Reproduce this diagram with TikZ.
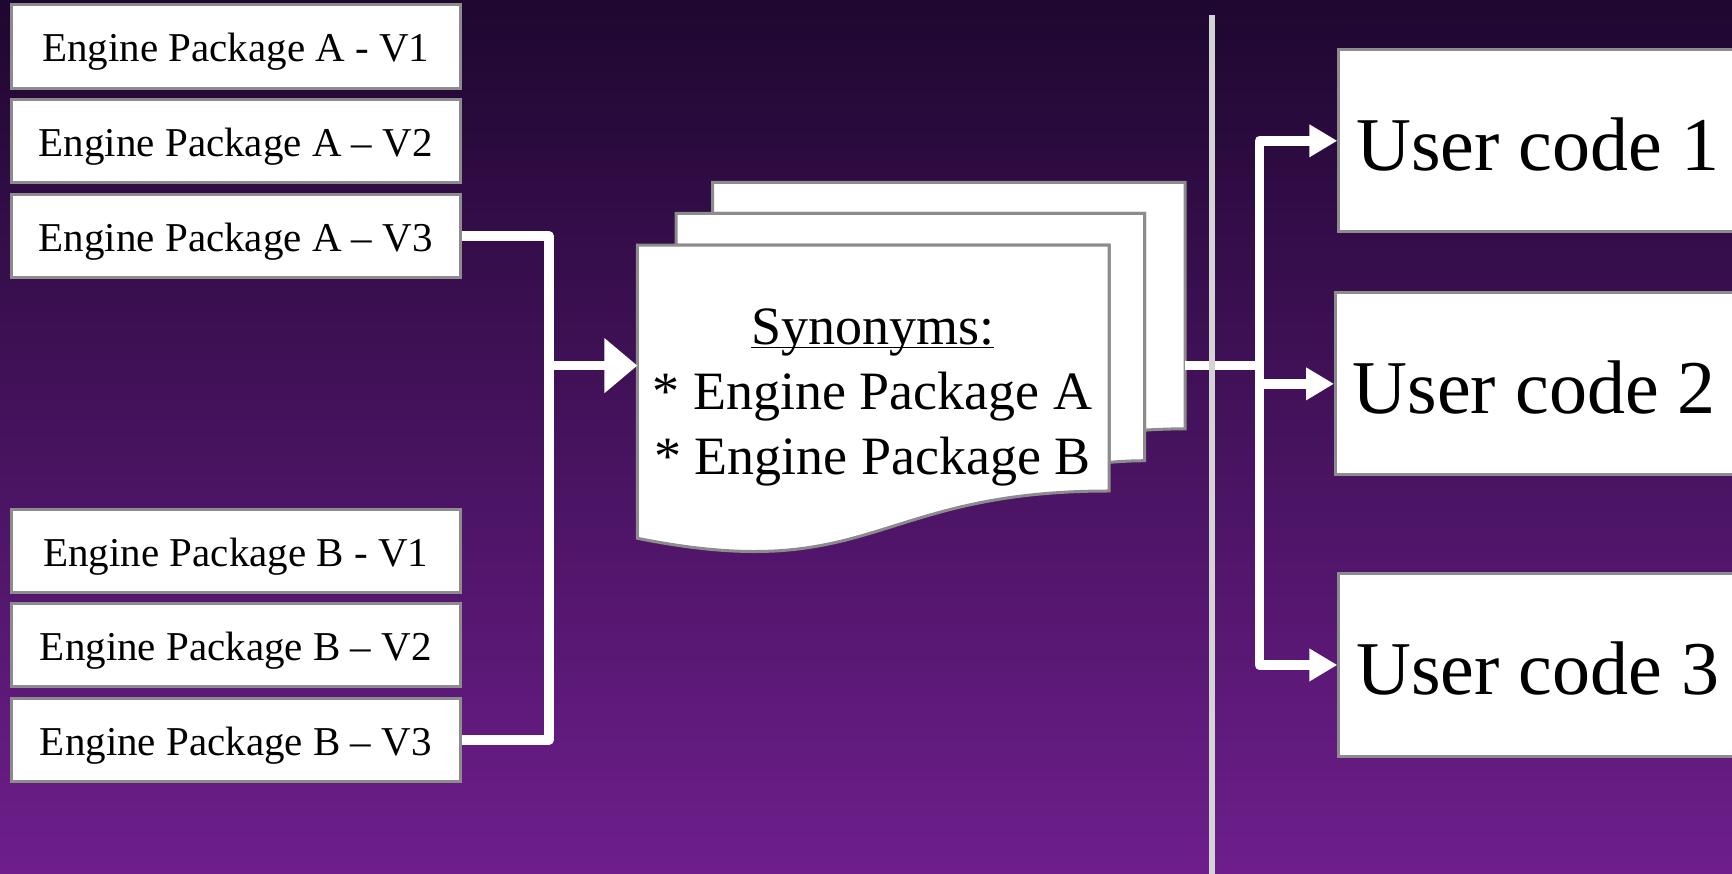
\documentclass[tikz,border=0pt]{standalone}
\usepackage{fontspec}
\setmainfont{Liberation Serif}
\usetikzlibrary{arrows.meta}
\definecolor{bgtop}{RGB}{30,7,48}
\definecolor{bgbot}{RGB}{110,30,140}
\definecolor{edgegray}{RGB}{140,140,140}
\definecolor{dividergray}{RGB}{212,212,212}
\begin{document}
\begin{tikzpicture}[x=0.5523pt, y=-0.5523pt,
  pkg/.style={draw=edgegray, line width=1.5pt, fill=white, minimum width=224.8pt,
    minimum height=41.7pt, inner sep=0pt, text height=18pt, text depth=2.8pt,
    font=\fontsize{20.5}{24}\selectfont},
  usercode/.style={draw=edgegray, line width=1.5pt, fill=white, minimum width=198.8pt,
    minimum height=91.1pt, inner sep=0pt, text height=32pt, text depth=2.8pt,
    font=\fontsize{38}{44}\selectfont},
  page/.style={draw=edgegray, line width=1.5pt, fill=white},
  conn/.style={draw=white, line width=4.7pt, line join=round},
  bigtip/.style={-{Triangle[length=16.5pt,width=26.5pt]}},
  smalltip/.style={-{Triangle[length=14pt,width=15.5pt]}},
  divider/.style={draw=dividergray, line width=3pt}]

\useasboundingbox (0,0) rectangle (1568,791);
\clip (0,0) rectangle (1568,791);

% background
\shade[top color=bgtop, bottom color=bgbot] (0,0) rectangle (1568,791);

% engine package versions
\node[pkg] (a1) at (213.5,42)    {Engine Package A - V1};
\node[pkg] (a2) at (213.5,127.5) {Engine Package A – V2};
\node[pkg] (a3) at (213.5,213.5) {Engine Package A – V3};
\node[pkg] (b1) at (213.5,499)   {Engine Package B - V1};
\node[pkg] (b2) at (213.5,584)   {Engine Package B – V2};
\node[pkg] (b3) at (213.5,670)   {Engine Package B – V3};

% stacked synonym documents (back, middle, front)
\draw[page] (645.2,193.1) -- (645.2,165) -- (1073,165) -- (1073,388.2)
  .. controls (1054.6,388.2) and (1036.3,389.4) .. (1036.3,389.4)
  -- (1036.3,193.1) -- cycle;
\draw[page] (612.2,222) -- (612.2,193.1) -- (1036.3,193.1) -- (1036.3,417.1)
  .. controls (1020.1,417.1) and (1004,418.6) .. (1004,418.6)
  -- (1004,222) -- cycle;
\draw[page] (577,487.3) .. controls (790.5,530.1) and (790.5,444.5) .. (1004,444.5)
  -- (1004,222) -- (577,222) -- cycle;
\node[font=\fontsize{27}{32.6}\selectfont, align=center, anchor=base] (syn) at (790,430)
  {\underline{\smash{Synonyms:}}\\* Engine Package A\\* Engine Package B};

\coordinate (docin)  at (577,331);
\coordinate (docout) at (1073,331);
\coordinate (jl) at (497,331);
\coordinate (jr) at (1140,331);

% user code boxes
\node[usercode] (u1) at (1392,127.5) {User code 1};
\node[usercode] (u2) at (1389,347.5) {User code 2};
\node[usercode] (u3) at (1392,602)   {User code 3};

% connectors
\draw[conn] (a3.east) -| (jl) |- (b3.east);
\draw[conn, bigtip] (jl) -- (docin);
\draw[conn] (docout) -- (jr);
\draw[conn, smalltip] (jr) |- (u1.west);
\draw[conn, smalltip] (jr) |- (u2.west);
\draw[conn, smalltip] (jr) |- (u3.west);

% vertical divider
\coordinate (septop) at (1097,14);
\coordinate (sepbot) at (1097,800);
\draw[divider] (septop) -- (sepbot);
\end{tikzpicture}
\end{document}
